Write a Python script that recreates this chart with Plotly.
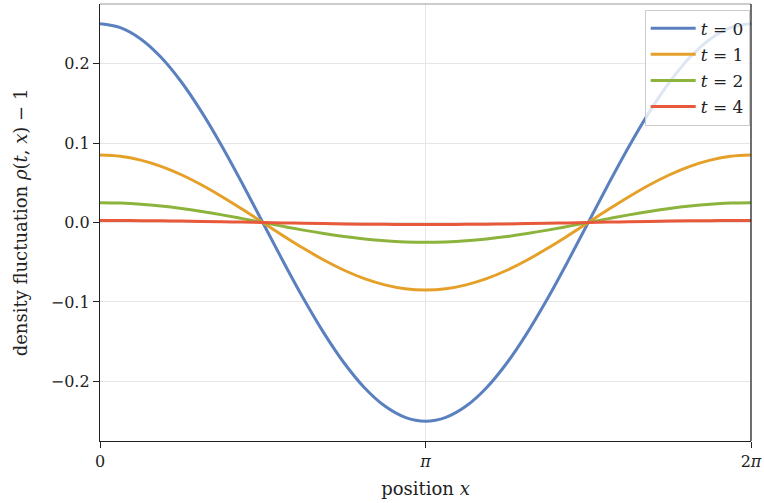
import math
import plotly.graph_objects as go

# sample positions: k * pi/16, k = 0..32
x_steps = list(range(33))
x_vals = [k * math.pi / 16 for k in x_steps]

rho_t0 = [0.2500, 0.2452, 0.2310, 0.2079, 0.1768, 0.1389, 0.0957, 0.0488, 0.0000,
          -0.0488, -0.0957, -0.1389, -0.1768, -0.2079, -0.2310, -0.2452, -0.2500,
          -0.2452, -0.2310, -0.2079, -0.1768, -0.1389, -0.0957, -0.0488, 0.0000,
          0.0488, 0.0957, 0.1389, 0.1768, 0.2079, 0.2310, 0.2452, 0.2500]
rho_t1 = [0.0850, 0.0834, 0.0785, 0.0707, 0.0601, 0.0472, 0.0325, 0.0166, 0.0000,
          -0.0166, -0.0325, -0.0472, -0.0601, -0.0707, -0.0785, -0.0834, -0.0850,
          -0.0834, -0.0785, -0.0707, -0.0601, -0.0472, -0.0325, -0.0166, 0.0000,
          0.0166, 0.0325, 0.0472, 0.0601, 0.0707, 0.0785, 0.0834, 0.0850]
rho_t2 = [0.0250, 0.0245, 0.0231, 0.0208, 0.0177, 0.0139, 0.0096, 0.0049, 0.0000,
          -0.0049, -0.0096, -0.0139, -0.0177, -0.0208, -0.0231, -0.0245, -0.0250,
          -0.0245, -0.0231, -0.0208, -0.0177, -0.0139, -0.0096, -0.0049, 0.0000,
          0.0049, 0.0096, 0.0139, 0.0177, 0.0208, 0.0231, 0.0245, 0.0250]
rho_t4 = [0.0025, 0.00245, 0.00231, 0.00208, 0.00177, 0.00139, 0.00096, 0.00049, 0.0000,
          -0.00049, -0.00096, -0.00139, -0.00177, -0.00208, -0.00231, -0.00245, -0.0025,
          -0.00245, -0.00231, -0.00208, -0.00177, -0.00139, -0.00096, -0.00049, 0.0000,
          0.00049, 0.00096, 0.00139, 0.00177, 0.00208, 0.00231, 0.00245, 0.0025]

series_names = ["<i>t</i> = 0", "<i>t</i> = 1", "<i>t</i> = 2", "<i>t</i> = 4"]
series_vals = [rho_t0, rho_t1, rho_t2, rho_t4]
colors = ["#5b80c0", "#e5a02a", "#8cb43c", "#e8583a"]

y_ticks = [-0.2, -0.1, 0.0, 0.1, 0.2]
y_tick_labels = ["\u22120.2", "\u22120.1", "0.0", "0.1", "0.2"]
x_ticks = [0, math.pi, 2 * math.pi]
x_tick_labels = ["0", "<i>\u03c0</i>", "2<i>\u03c0</i>"]

FONT = "DejaVu Serif"

fig = go.Figure()
for i, (name, vals, col) in enumerate(zip(series_names, series_vals, colors)):
    fig.add_trace(go.Scatter(
        x=x_vals, y=vals, mode="lines", name=name, legendgroup=f"g{i}",
        line=dict(color=col, width=3, shape="spline", smoothing=1.0),
    ))

fig.update_layout(
    width=764, height=503,
    margin=dict(l=100, r=13, t=4, b=62),
    paper_bgcolor="white", plot_bgcolor="white",
    font=dict(family=FONT, size=16, color="#222"),
    showlegend=True,
    legend=dict(
        x=0.998, y=0.987, xanchor="right", yanchor="top",
        bgcolor="rgba(255,255,255,0.8)", bordercolor="#cccccc", borderwidth=1,
        font=dict(family=FONT, size=17, color="#222"),
        tracegroupgap=1, itemwidth=45,
    ),
    xaxis=dict(
        range=[0, 2 * math.pi], automargin=False,
        tickmode="array", tickvals=x_ticks, ticktext=x_tick_labels,
        ticks="outside", ticklen=6, tickwidth=1.2, tickcolor="#222",
        showgrid=True, gridcolor="#e6e6e6", gridwidth=1,
        showline=True, linecolor="#222", linewidth=1.3,
        zeroline=False,
        title=dict(text="position <i>x</i>", font=dict(family=FONT, size=18), standoff=12),
        tickfont=dict(family=FONT, size=16),
    ),
    yaxis=dict(
        range=[-0.275, 0.275], automargin=False,
        tickmode="array", tickvals=y_ticks, ticktext=y_tick_labels,
        ticks="outside", ticklen=6, tickwidth=1.2, tickcolor="#222",
        showgrid=True, gridcolor="#e6e6e6", gridwidth=1,
        showline=True, linecolor="#222", linewidth=1.3,
        zeroline=False,
        title=dict(text="density fluctuation <i>\u03c1</i>(<i>t</i>, <i>x</i>) \u2212 1",
                   font=dict(family=FONT, size=18), standoff=18),
        tickfont=dict(family=FONT, size=16),
    ),
    shapes=[
        dict(type="line", xref="paper", yref="paper", x0=0, x1=1, y0=1, y1=1,
             line=dict(color="#999999", width=1.2)),
        dict(type="line", xref="paper", yref="paper", x0=1, x1=1, y0=0, y1=1,
             line=dict(color="#222", width=1.3)),
    ],
)

fig.write_html("out.html", config={"displayModeBar": False},
               post_script="document.body.style.margin='0';")
